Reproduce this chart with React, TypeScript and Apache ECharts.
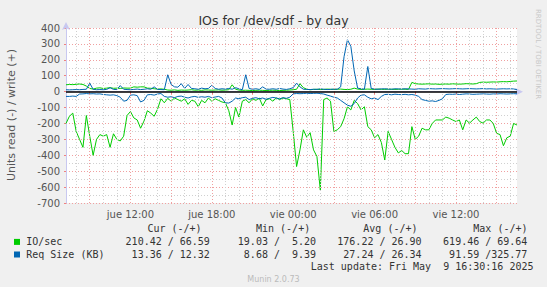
import React, { useEffect, useRef } from "react";
import * as echarts from "echarts";

// time axis expressed in hours since "jue 00:00"
const startHour = 7.25;
const stepHours = 0.25;
const axisMinHour = 7.25;
const axisMaxHour = 40.5;

// IO/sec read (drawn negative)
const ioRead = [
  -200, -155, -135, -250, -300, -350, -150, -280, -400, -300,
  -270, -280, -270, -350, -265, -300, -310, -280, -150, -125,
  -165, -178, -230, -185, -120, -135, -155, -110, -45, -70,
  -42, -60, -40, -50, -60, -45, -80, -55, -60, -95,
  -55, -70, -40, -60, -45, -55, -65, -70, -120, -210,
  -100, -160, -60, -50, -70, -45, -55, -40, -90, -50,
  -45, -60, -40, -50, -40, -45, -50, -250, -471, -366,
  -240, -287, -258, -366, -408, -619, -50, -40, -60, -250,
  -240, -220, -170, -95, -115, -55, -75, -115, -95, -220,
  -240, -290, -270, -320, -430, -250, -300, -350, -385, -370,
  -390, -390, -220, -300, -280, -230, -240, -240, -200, -178,
  -178, -178, -160, -167, -178, -188, -178, -240, -178, -198,
  -178, -160, -188, -198, -178, -178, -200, -262, -270, -340,
  -290, -280, -200, -210,
];

// IO/sec write (positive)
const ioWrite = [
  43, 45, 44, 46, 48, 45, 35, 20, 16, 22,
  24, 20, 22, 25, 21, 22, 20, 23, 22, 22,
  30, 28, 30, 30, 22, 21, 18, 16, 17, 15,
  10, 9, 11, 8, 10, 9, 10, 12, 9, 10,
  8, 11, 10, 9, 10, 11, 9, 10, 12, 43,
  15, 10, 8, 9, 8, 7, 8, 9, 8, 7,
  8, 9, 8, 7, 8, 9, 10, 12, 15, 50,
  25, 15, 12, 14, 15, 13, 14, 16, 15, 14,
  15, 16, 14, 13, 15, 22, 16, 14, 15, 16,
  15, 14, 16, 15, 14, 16, 15, 14, 15, 16,
  15, 14, 58, 50, 48, 47, 48, 49, 47, 48,
  46, 47, 48, 47, 49, 48, 47, 48, 50, 49,
  48, 50, 58, 60, 59, 60, 61, 60, 62, 63,
  62, 64, 66, 67,
];

// Req Size (KB) read (negative)
const reqRead = [
  -30, -30, -28, -30, -15, -14, -12, -14, -13, -15,
  -14, -18, -20, -22, -20, -25, -35, -60, -55, -22,
  -20, -25, -65, -55, -20, -18, -22, -15, -12, -30,
  -35, -32, -38, -30, -28, -35, -40, -33, -30, -36,
  -32, -35, -30, -38, -34, -30, -40, -70, -72, -60,
  -40, -45, -38, -35, -50, -42, -38, -45, -40, -48,
  -42, -36, -40, -45, -38, -42, -35, -14, -12, -13,
  -12, -10, -12, -11, -10, -12, -15, -22, -28, -35,
  -40, -55, -70, -85, -92, -75, -40, -22, -20, -35,
  -45, -40, -50, -30, -18, -17, -20, -16, -18, -19,
  -17, -20, -18, -22, -30, -50, -55, -60, -58, -62,
  -55, -45, -18, -16, -17, -15, -18, -16, -14, -15,
  -17, -16, -15, -14, -15, -16, -14, -15, -13, -14,
  -15, -14, -13, -13,
];

// Req Size (KB) write (positive)
const reqWrite = [
  12, 11, 12, 13, 12, 14, 15, 53, 15, 12,
  13, 12, 14, 25, 14, 13, 38, 15, 13, 12,
  14, 16, 13, 15, 18, 15, 30, 14, 13, 12,
  106, 45, 30, 28, 50, 20, 45, 20, 18, 15,
  22, 18, 20, 40, 20, 15, 18, 16, 20, 15,
  25, 18, 12, 106, 20, 15, 18, 14, 30, 16,
  15, 18, 15, 20, 16, 14, 18, 25, 53, 30,
  15, 14, 13, 15, 14, 18, 15, 13, 14, 16,
  15, 30, 220, 326, 285, 130, 22, 18, 15, 158,
  20, 16, 15, 17, 18, 16, 15, 18, 17, 16,
  18, 17, 16, 15, 18, 17, 16, 19, 18, 17,
  18, 19, 18, 17, 18, 19, 18, 17, 18, 19,
  18, 17, 18, 19, 17, 18, 17, 16, 17, 18,
  17, 18, 17, 12,
];

const xLabelHours = [12, 18, 24, 30, 36];
const xLabelTexts = ["jue 12:00", "jue 18:00", "vie 00:00", "vie 06:00", "vie 12:00"];
const majorHours = [9, 12, 15, 18, 21, 24, 27, 30, 33, 36, 39];
const minorHours = [8, 10, 11, 13, 14, 16, 17, 19, 20, 22, 23, 25, 26, 28, 29, 31, 32, 34, 35, 37, 38, 40];

const legendHeaders = ["Cur (-/+)", "Min (-/+)", "Avg (-/+)", "Max (-/+)"];
const seriesNames = ["IO/sec", "Req Size (KB)"];
const ioStats = ["210.42 / 66.59", "19.03 /  5.20", "176.22 / 26.90", "619.46 / 69.64"];
const reqStats = ["13.36 / 12.32", "8.68 /  9.39", "27.24 / 26.34", "91.59 /325.77"];
const lastUpdate = "Last update: Fri May  9 16:30:16 2025";

const GREEN = "#00CC00";
const BLUE = "#0066B3";
const SANS = '"DejaVu Sans", sans-serif';
const MONO = '"DejaVu Sans Mono", monospace';

const toPairs = (arr: number[]) => arr.map((v, i) => [startHour + i * stepHours, v]);

export default function App() {
  const ref = useRef<HTMLDivElement>(null);
  useEffect(() => {
    if (!ref.current) return;
    const chart = echarts.init(ref.current, undefined, { renderer: "svg" });

    const headerLefts = [147.4, 256, 363.3, 473.3];
    const valueRights = [209.9, 316.1, 421.6, 527.4];
    const legendText: any[] = [];
    legendHeaders.forEach((h, k) => {
      legendText.push({
        type: "text", x: headerLefts[k], y: 228.6,
        style: { text: h, font: `10px ${MONO}`, fill: "#333", align: "left", verticalAlign: "middle", textAlign: "left", textVerticalAlign: "middle" },
      });
    });
    [ioStats, reqStats].forEach((row, r) => {
      const y = r === 0 ? 241.9 : 254.5;
      legendText.push({ type: "rect", shape: { x: 14, y: y - 3, width: 6, height: 6 }, style: { fill: r === 0 ? GREEN : BLUE } });
      legendText.push({
        type: "text", x: 26.2, y,
        style: { text: seriesNames[r], font: `10px ${MONO}`, fill: "#333", align: "left", verticalAlign: "middle", textAlign: "left", textVerticalAlign: "middle" },
      });
      row.forEach((s, k) => {
        legendText.push({
          type: "text", x: valueRights[k], y,
          style: { text: s, font: `10px ${MONO}`, fill: "#333", align: "right", verticalAlign: "middle", textAlign: "right", textVerticalAlign: "middle" },
        });
      });
    });

    const option: any = {
      animation: false,
      backgroundColor: "#F0F0F0",
      grid: { left: 66, top: 28, width: 451, height: 175, show: true, backgroundColor: "#FFFFFF", borderWidth: 0 },
      xAxis: {
        type: "value",
        min: axisMinHour,
        max: axisMaxHour,
        axisLine: { show: true, lineStyle: { color: "#C8C8F0", width: 1 }, symbol: ["none", "arrow"], symbolSize: [6, 8], symbolOffset: [0, 6] },
        axisTick: { show: true, customValues: majorHours, length: 3, lineStyle: { color: "#F08080" } },
        axisLabel: {
          customValues: xLabelHours,
          margin: 6,
          color: "#555",
          fontSize: 10,
          fontFamily: SANS,
          formatter: (v: number) => xLabelTexts[xLabelHours.indexOf(v)] ?? "",
        },
        splitLine: { show: false },
      },
      yAxis: {
        type: "value",
        min: -700,
        max: 400,
        interval: 100,
        axisLine: { show: true, onZero: false, lineStyle: { color: "#C8C8F0", width: 1 }, symbol: ["none", "arrow"], symbolSize: [6, 8], symbolOffset: [0, 6] },
        axisTick: { show: true, length: 2, lineStyle: { color: "#F08080" } },
        axisLabel: { margin: 6, color: "#555", fontSize: 10, fontFamily: SANS },
        splitLine: { show: true, lineStyle: { color: "#F0A0A0", type: [1, 2], width: 1 } },
        minorTick: { show: false, splitNumber: 2 },
        minorSplitLine: { show: true, lineStyle: { color: "#D0D0D0", type: [1, 2], width: 1 } },
      },
      series: [
        {
          type: "line",
          name: "vgrid",
          data: [],
          silent: true,
          z: 1,
          markLine: {
            silent: true,
            symbol: ["none", "none"],
            label: { show: false },
            animation: false,
            data: [
              ...minorHours.map((h) => ({ xAxis: h, lineStyle: { color: "#D0D0D0", type: [1, 2], width: 1 } })),
              ...majorHours.map((h) => ({ xAxis: h, lineStyle: { color: "#F0A0A0", type: [1, 2], width: 1 } })),
            ],
          },
        },
        { type: "line", name: "IO read", data: toPairs(ioRead), showSymbol: false, lineStyle: { color: GREEN, width: 1 }, itemStyle: { color: GREEN }, z: 2 },
        { type: "line", name: "IO write", data: toPairs(ioWrite), showSymbol: false, lineStyle: { color: GREEN, width: 1 }, itemStyle: { color: GREEN }, z: 2 },
        { type: "line", name: "Req read", data: toPairs(reqRead), showSymbol: false, lineStyle: { color: BLUE, width: 1 }, itemStyle: { color: BLUE }, z: 2 },
        { type: "line", name: "Req write", data: toPairs(reqWrite), showSymbol: false, lineStyle: { color: BLUE, width: 1 }, itemStyle: { color: BLUE }, z: 2 },
        {
          type: "line",
          name: "zero",
          data: [],
          silent: true,
          z: 3,
          markLine: {
            silent: true,
            symbol: ["none", "none"],
            label: { show: false },
            animation: false,
            data: [{ yAxis: 0, lineStyle: { color: "#000000", type: "solid", width: 1.5 } }],
          },
        },
      ],
      graphic: [
        {
          type: "text", x: 273.5, y: 20,
          style: { text: "IOs for /dev/sdf - by day", font: `12.5px ${SANS}`, fill: "#333", align: "center", verticalAlign: "middle", textAlign: "center", textVerticalAlign: "middle" },
        },
        {
          type: "text", x: 11.5, y: 115, rotation: Math.PI / 2,
          style: { text: "Units read (-) / write (+)", font: `11px ${SANS}`, fill: "#555", align: "center", verticalAlign: "middle", textAlign: "center", textVerticalAlign: "middle" },
        },
        {
          type: "text", x: 538, y: 54, rotation: -Math.PI / 2,
          style: { text: "RRDTOOL / TOBI OETIKER", font: `7px ${SANS}`, fill: "#C8C8C8", align: "center", verticalAlign: "middle", textAlign: "center", textVerticalAlign: "middle" },
        },
        ...legendText,
        {
          type: "text", x: 533.5, y: 266.4,
          style: { text: lastUpdate, font: `10px ${MONO}`, fill: "#333", align: "right", verticalAlign: "middle", textAlign: "right", textVerticalAlign: "middle" },
        },
        {
          type: "text", x: 273.5, y: 279.6,
          style: { text: "Munin 2.0.73", font: `8px ${SANS}`, fill: "#BBBBBB", align: "center", verticalAlign: "middle", textAlign: "center", textVerticalAlign: "middle" },
        },
      ],
    };
    chart.setOption(option);
    return () => chart.dispose();
  }, []);
  return <div ref={ref} style={{ position: "fixed", left: 0, top: 0, width: 547, height: 287 }} />;
}
